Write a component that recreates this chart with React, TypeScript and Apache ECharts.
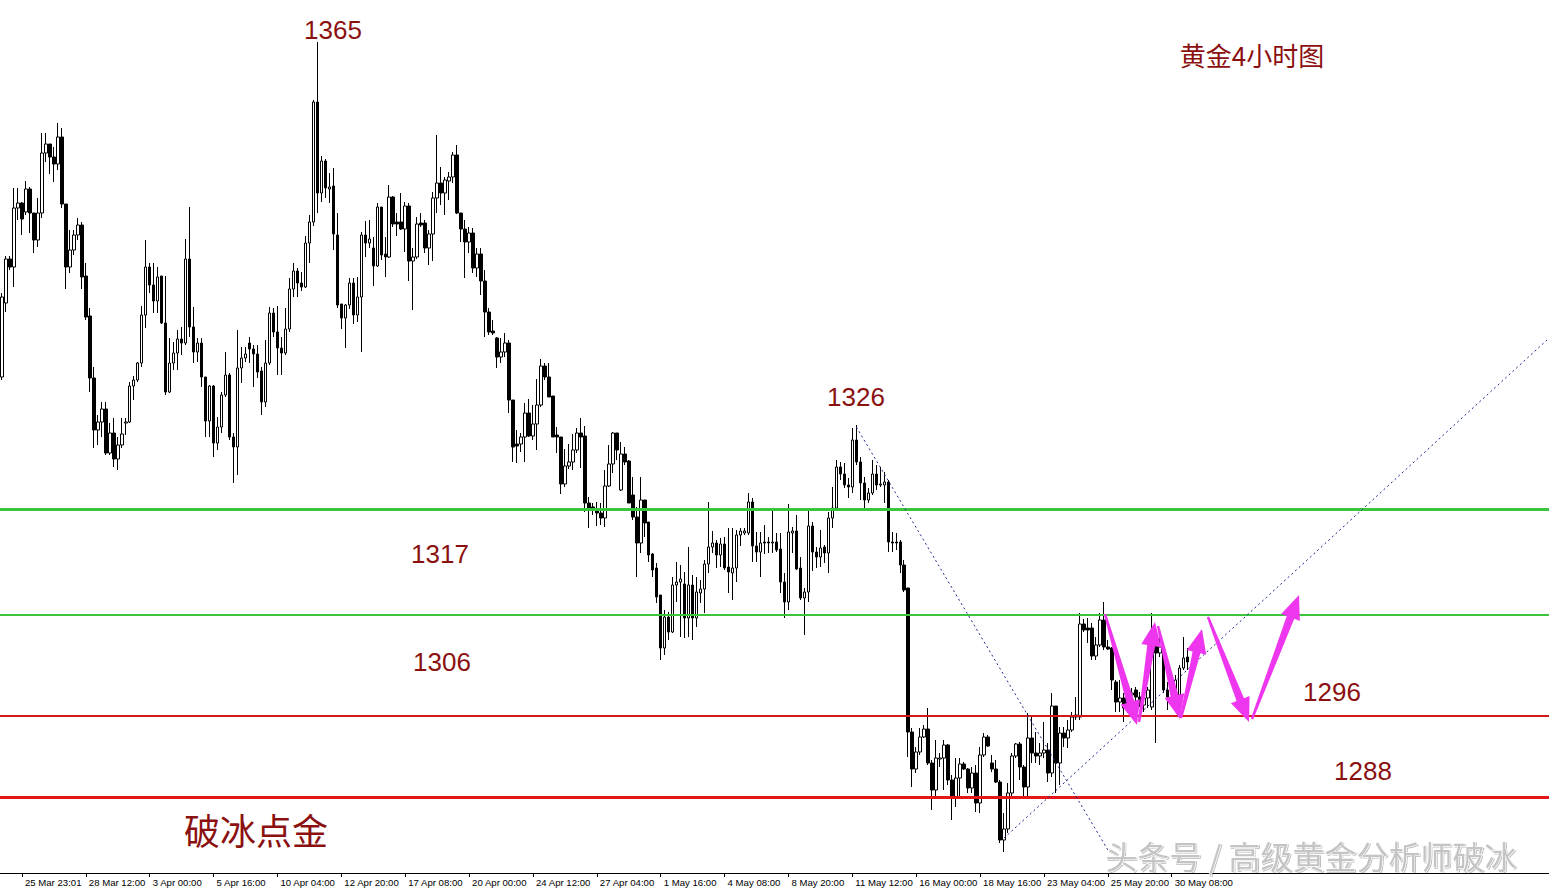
import React, { useEffect, useRef } from "react";
import * as echarts from "echarts";

// ---- x axis tick labels (MT4 style, every 16 bars starting at bar 5) ----
const tickLabels = [
  "25 Mar 23:01", "28 Mar 12:00", "3 Apr 00:00", "5 Apr 16:00", "10 Apr 04:00",
  "12 Apr 20:00", "17 Apr 08:00", "20 Apr 00:00", "24 Apr 12:00", "27 Apr 04:00",
  "1 May 16:00", "4 May 08:00", "8 May 20:00", "11 May 12:00", "16 May 00:00",
  "18 May 16:00", "23 May 04:00", "25 May 20:00", "30 May 08:00",
];
const firstTickBar = 5;
const barsPerTick = 16;
const totalSlots = 388; // bars + empty right-side shift area

// ---- 4h candles: open / close / low / high ----
const opens = [
  1330.3,1337.7,1342.1,1341.3,1347.2,1347.7,1346.8,1349.1,1346.7,1344.0,
  1346.7,1352.7,1353.6,1352.3,1351.6,1354.3,1347.6,1341.3,1343.0,1344.5,
  1345.5,1340.4,1336.4,1330.2,1325.0,1325.8,1327.1,1322.7,1324.7,1322.1,
  1323.5,1325.7,1325.8,1329.4,1330.0,1331.7,1336.5,1341.3,1339.5,1337.9,
  1340.4,1335.7,1328.8,1331.7,1332.7,1334.1,1333.7,1342.1,1335.3,1332.8,
  1333.7,1330.3,1325.9,1329.4,1323.7,1325.3,1328.5,1330.5,1324.3,1323.3,
  1331.2,1332.2,1333.7,1333.1,1332.6,1330.9,1327.8,1331.7,1336.7,1334.8,
  1333.2,1332.7,1335.1,1339.1,1340.9,1339.7,1339.3,1343.7,1345.8,1357.8,
  1348.7,1351.9,1349.1,1349.4,1344.5,1337.6,1336.2,1337.5,1339.7,1336.5,
  1338.3,1344.5,1343.7,1343.2,1341.4,1347.3,1342.6,1342.3,1348.3,1345.8,
  1345.8,1345.1,1347.4,1341.9,1342.3,1345.7,1345.7,1343.2,1344.6,1348.2,
  1349.7,1348.7,1349.9,1350.3,1352.5,1346.7,1345.1,1343.8,1344.7,1341.2,
  1342.6,1339.9,1336.8,1334.9,1334.2,1332.3,1332.8,1333.7,1328.0,1323.6,
  1323.6,1324.3,1326.7,1324.4,1325.6,1327.5,1331.4,1330.3,1328.4,1324.5,
  1324.3,1319.6,1321.4,1321.8,1323.0,1324.7,1324.4,1317.7,1317.3,1317.1,
  1316.7,1316.2,1319.4,1321.6,1324.7,1319.0,1322.6,1321.9,1318.5,1316.3,
  1313.7,1318.0,1315.8,1312.6,1311.2,1308.5,1303.2,1306.3,1304.8,1309.5,
  1309.8,1309.6,1306.2,1309.5,1306.2,1308.7,1309.1,1311.6,1313.3,1313.7,
  1312.5,1313.6,1311.3,1310.7,1311.2,1314.5,1314.7,1314.7,1317.8,1313.4,
  1312.8,1313.8,1313.8,1313.7,1313.8,1313.1,1309.8,1307.8,1314.7,1314.9,
  1311.2,1308.2,1308.8,1315.4,1312.8,1312.3,1313.3,1312.7,1316.2,1317.2,
  1321.3,1320.6,1319.5,1319.3,1324.0,1321.8,1319.7,1318.0,1318.7,1320.6,
  1319.5,1319.5,1319.8,1313.8,1313.8,1313.8,1311.5,1309.2,1294.8,1291.1,
  1292.8,1294.3,1295.1,1291.7,1289.0,1292.1,1292.2,1293.5,1290.0,1288.2,
  1290.2,1291.6,1291.1,1289.2,1290.7,1287.7,1292.5,1294.3,1291.7,1291.1,
  1289.8,1284.0,1285.1,1288.7,1292.4,1293.6,1291.3,1289.3,1294.2,1292.7,
  1292.4,1292.7,1293.0,1290.7,1297.4,1291.7,1294.7,1294.2,1295.0,1296.3,
  1296.3,1305.6,1305.2,1305.2,1302.4,1303.5,1306.0,1303.3,1303.2,1299.8,
  1297.8,1298.2,1297.2,1298.5,1299.0,1298.3,1297.5,1298.2,1297.3,1303.8,
  1302.7,1303.3,1299.0,1300.2,1298.0,1298.5,1301.2,1302.3,
];
const closes = [
  1338.3,1342.1,1341.3,1347.2,1347.7,1346.1,1349.1,1346.7,1344.0,1346.7,
  1352.7,1353.6,1352.3,1351.6,1354.3,1347.6,1341.3,1343.0,1344.5,1345.5,
  1340.3,1336.3,1330.2,1325.0,1325.8,1327.1,1322.7,1324.7,1322.1,1323.5,
  1324.6,1325.8,1329.4,1330.0,1331.7,1336.5,1341.3,1339.5,1337.9,1340.3,
  1335.7,1328.8,1331.7,1332.7,1334.1,1333.7,1342.1,1335.3,1332.8,1333.7,
  1330.3,1325.9,1329.4,1323.7,1325.3,1328.5,1330.5,1324.3,1323.3,1331.2,
  1332.2,1332.6,1333.1,1332.6,1330.8,1327.8,1331.7,1336.7,1334.8,1333.2,
  1332.7,1335.1,1339.1,1340.9,1339.7,1339.3,1343.7,1345.8,1357.8,1348.7,
  1351.9,1349.2,1349.3,1344.6,1337.5,1336.2,1337.5,1339.7,1336.5,1338.3,
  1344.5,1343.7,1344.1,1341.4,1347.3,1342.5,1342.3,1348.3,1345.6,1345.6,
  1345.1,1347.4,1341.9,1342.3,1345.6,1345.5,1343.2,1344.6,1348.2,1349.7,
  1348.7,1350.0,1350.3,1352.5,1346.7,1345.1,1343.8,1344.7,1341.2,1342.6,
  1339.9,1336.8,1334.8,1334.7,1332.3,1332.8,1333.7,1328.0,1323.3,1323.4,
  1324.3,1326.7,1324.4,1325.6,1327.5,1331.4,1330.3,1328.3,1324.3,1324.3,
  1319.6,1321.4,1321.8,1323.0,1324.7,1324.3,1317.7,1317.2,1317.1,1316.7,
  1316.2,1319.4,1321.6,1324.7,1323.0,1322.6,1321.8,1317.7,1316.3,1313.7,
  1318.0,1315.7,1312.5,1311.0,1308.3,1303.2,1306.3,1304.8,1309.5,1309.8,
  1310.1,1306.2,1309.5,1306.2,1308.8,1309.1,1311.6,1313.3,1313.7,1312.5,
  1313.6,1311.2,1310.8,1311.2,1314.5,1314.9,1314.9,1317.8,1313.4,1312.8,
  1313.7,1313.7,1313.7,1313.8,1313.0,1309.8,1307.8,1314.8,1314.9,1311.1,
  1308.2,1308.8,1315.4,1312.8,1312.3,1313.2,1312.7,1316.2,1317.2,1321.3,
  1320.6,1319.5,1319.3,1324.0,1321.8,1319.7,1318.0,1318.7,1320.6,1319.5,
  1319.6,1319.8,1313.8,1313.7,1313.7,1311.5,1309.0,1294.8,1291.1,1292.8,
  1294.3,1295.1,1291.7,1289.0,1292.2,1292.2,1293.5,1290.0,1288.2,1290.2,
  1291.6,1291.1,1289.2,1290.7,1287.7,1292.5,1294.3,1293.4,1291.1,1289.8,
  1284.0,1285.1,1288.7,1292.4,1293.6,1291.3,1289.3,1294.2,1292.7,1292.4,
  1292.7,1293.0,1290.7,1297.4,1291.7,1294.7,1294.2,1295.0,1296.3,1296.5,
  1305.6,1305.0,1305.0,1302.4,1303.5,1306.0,1303.3,1303.1,1300.0,1297.8,
  1298.2,1297.2,1298.5,1298.7,1298.3,1297.5,1298.2,1299.0,1303.8,1302.7,
  1303.3,1299.0,1298.3,1299.3,1300.0,1301.2,1302.2,1301.8,
];
const lows = [
  1330.0,1336.8,1341.0,1339.3,1346.0,1344.5,1346.5,1344.7,1342.7,1343.3,
  1346.2,1351.8,1350.6,1349.8,1351.0,1347.2,1339.1,1340.7,1342.5,1344.0,
  1339.1,1336.0,1328.8,1323.2,1323.5,1324.3,1322.5,1322.5,1321.3,1321.0,
  1323.2,1324.5,1325.7,1328.0,1329.8,1331.3,1335.2,1338.7,1336.7,1336.7,
  1335.6,1328.5,1328.7,1331.0,1331.0,1332.5,1333.5,1334.3,1331.7,1331.8,
  1329.3,1324.3,1324.3,1322.3,1323.0,1324.7,1328.3,1324.0,1319.7,1320.5,
  1329.7,1331.8,1331.7,1329.3,1330.2,1326.5,1327.3,1331.5,1334.3,1330.5,
  1330.5,1332.5,1334.8,1338.3,1338.3,1338.9,1339.2,1341.7,1345.4,1346.7,
  1347.8,1348.2,1347.7,1343.0,1337.2,1335.1,1333.2,1337.1,1335.6,1335.8,
  1332.8,1342.3,1343.2,1339.4,1341.3,1342.0,1340.3,1342.2,1345.3,1344.4,
  1345.0,1342.8,1339.9,1337.0,1342.1,1345.3,1342.7,1341.5,1341.9,1346.7,
  1347.5,1346.5,1348.0,1349.7,1346.6,1343.8,1340.2,1342.7,1340.7,1340.3,
  1338.5,1334.3,1334.5,1334.5,1331.2,1331.7,1332.3,1326.7,1321.8,1321.7,
  1322.8,1321.8,1324.3,1324.0,1323.0,1327.3,1330.0,1328.3,1324.3,1322.7,
  1318.6,1319.3,1321.1,1321.0,1322.7,1321.2,1316.8,1315.2,1316.5,1315.4,
  1315.5,1315.3,1319.3,1320.7,1322.0,1318.9,1321.5,1317.7,1316.0,1310.3,
  1312.7,1314.3,1311.8,1310.3,1307.7,1302.0,1302.5,1304.0,1304.7,1307.8,
  1304.3,1304.2,1304.3,1304.0,1305.3,1307.7,1306.7,1310.7,1312.7,1311.2,
  1311.3,1311.0,1308.7,1308.0,1309.8,1313.4,1314.5,1314.5,1311.8,1311.8,
  1310.3,1312.6,1312.7,1312.7,1312.8,1308.7,1306.2,1307.0,1312.7,1311.0,
  1308.0,1304.5,1307.8,1310.9,1311.2,1311.3,1311.7,1310.7,1315.2,1317.0,
  1320.0,1319.2,1318.2,1318.7,1321.5,1318.0,1317.0,1317.7,1318.5,1319.0,
  1319.3,1317.7,1312.8,1312.8,1313.0,1310.7,1308.8,1292.3,1289.3,1290.7,
  1292.5,1294.2,1291.5,1287.0,1288.2,1291.3,1289.0,1289.5,1286.0,1287.3,
  1288.3,1291.0,1288.7,1288.7,1286.8,1286.7,1292.3,1293.3,1290.8,1289.7,
  1283.7,1282.8,1284.7,1288.3,1292.2,1290.0,1288.4,1288.4,1291.7,1291.7,
  1291.5,1292.2,1289.8,1290.3,1288.7,1289.5,1293.3,1293.2,1294.8,1296.0,
  1296.0,1304.8,1303.7,1302.0,1302.0,1303.3,1303.0,1303.0,1299.0,1296.8,
  1296.8,1295.8,1296.7,1297.5,1297.8,1297.3,1296.8,1297.2,1297.0,1293.7,
  1302.3,1298.7,1297.0,1299.0,1297.5,1298.0,1301.0,1301.0,
];
const highs = [
  1338.7,1342.4,1342.4,1349.2,1349.2,1347.8,1349.9,1349.3,1346.7,1348.2,
  1354.7,1354.7,1353.6,1353.3,1355.7,1355.2,1347.6,1345.0,1345.0,1346.2,
  1345.8,1341.7,1337.2,1331.3,1326.5,1327.8,1327.8,1325.7,1326.2,1324.3,
  1326.2,1326.2,1329.8,1330.4,1331.8,1337.4,1344.0,1341.7,1341.7,1341.3,
  1340.4,1340.4,1334.2,1333.8,1335.0,1335.3,1344.1,1347.3,1337.3,1334.2,
  1334.2,1330.3,1329.5,1329.5,1326.3,1328.8,1332.8,1330.7,1324.7,1335.0,
  1333.3,1333.3,1334.3,1333.5,1333.5,1331.3,1334.0,1337.3,1337.2,1337.4,
  1334.3,1337.2,1340.2,1341.7,1341.2,1340.8,1344.4,1346.5,1358.0,1363.8,
  1352.4,1352.1,1350.7,1351.2,1346.7,1337.6,1337.6,1340.2,1340.2,1340.3,
  1344.8,1345.9,1346.0,1344.3,1347.7,1347.3,1344.3,1349.5,1348.4,1346.7,
  1348.7,1347.8,1347.7,1343.2,1346.3,1346.7,1346.0,1345.0,1348.8,1354.5,
  1351.3,1350.3,1350.8,1352.8,1353.5,1346.7,1346.0,1345.3,1345.2,1343.2,
  1343.2,1341.0,1337.2,1336.0,1334.3,1334.2,1334.7,1334.0,1328.0,1325.0,
  1324.7,1327.7,1328.1,1327.5,1330.1,1332.1,1331.7,1331.7,1328.4,1325.3,
  1324.3,1323.1,1323.6,1324.6,1325.2,1326.2,1325.4,1318.3,1317.7,1317.8,
  1317.7,1321.0,1323.5,1324.8,1324.7,1323.8,1323.3,1322.0,1320.3,1317.3,
  1320.3,1318.0,1315.8,1312.7,1311.7,1308.5,1307.0,1306.8,1310.3,1311.8,
  1311.5,1310.8,1313.3,1310.5,1310.3,1310.0,1312.0,1317.8,1314.9,1314.0,
  1314.2,1314.3,1315.2,1315.2,1315.0,1315.2,1315.2,1318.7,1318.2,1314.8,
  1314.8,1315.5,1314.3,1316.9,1314.7,1314.7,1310.7,1317.6,1315.3,1316.5,
  1312.3,1309.2,1317.2,1315.8,1313.3,1315.0,1313.5,1316.8,1319.3,1322.0,
  1321.8,1321.7,1320.2,1325.2,1325.5,1322.3,1320.3,1319.2,1322.0,1321.5,
  1321.3,1320.8,1320.0,1314.8,1314.7,1314.0,1312.0,1309.2,1295.2,1293.3,
  1295.2,1295.5,1297.2,1292.0,1294.0,1292.7,1294.0,1293.6,1290.5,1292.2,
  1292.2,1291.8,1291.2,1291.3,1291.5,1293.3,1294.7,1294.5,1292.5,1292.0,
  1290.0,1286.7,1289.7,1292.7,1293.7,1293.8,1291.5,1296.7,1296.5,1294.8,
  1293.7,1295.8,1293.7,1298.7,1297.4,1295.3,1295.3,1296.0,1296.8,1298.3,
  1306.7,1306.1,1306.2,1305.7,1304.3,1306.7,1307.8,1304.0,1303.3,1300.0,
  1300.0,1298.7,1299.7,1299.2,1299.3,1298.8,1299.3,1299.3,1306.7,1305.0,
  1304.2,1303.5,1299.8,1300.8,1300.5,1301.5,1304.3,1303.2,
];

// ---- horizontal support / resistance levels ----
const greenLevels = [1317.1, 1306.5];
const redLevels = [1296.4, 1288.3];

// ---- trend lines: [barIndex, price] pairs ----
const downTrend = [[214, 1325.3], [277, 1283.0]];
const upTrend = [[251, 1284.2], [387, 1334.0]];

// ---- annotation texts ----
const annotations = [
  { text: "1365", x: 333, y: 30, size: 26 },
  { text: "1326", x: 856, y: 397, size: 26 },
  { text: "1317", x: 440, y: 554, size: 26 },
  { text: "1306", x: 442, y: 662, size: 26 },
  { text: "1296", x: 1332, y: 692, size: 26 },
  { text: "1288", x: 1363, y: 771, size: 26 },
];

// ---- hand-drawn magenta arrows (pixel start -> tip) ----
const arrows = [
  [1105, 614, 1137, 725],
  [1139, 722, 1155, 622],
  [1158, 626, 1180, 719],
  [1181, 718, 1202, 629],
  [1208, 617, 1249, 722],
  [1252, 719, 1299, 595],
];

function arrowPolygon(x0: number, y0: number, x1: number, y1: number) {
  const dx = x1 - x0, dy = y1 - y0;
  const len = Math.sqrt(dx * dx + dy * dy);
  const ux = dx / len, uy = dy / len;
  const nx = -uy, ny = ux;
  const headLen = 24, headW = 10, w0 = 1.2, w1 = 4;
  const bx = x1 - ux * headLen, by = y1 - uy * headLen;
  return [
    [x0 + nx * w0, y0 + ny * w0],
    [bx + nx * w1, by + ny * w1],
    [bx + nx * headW, by + ny * headW],
    [x1, y1],
    [bx - nx * headW, by - ny * headW],
    [bx - nx * w1, by - ny * w1],
    [x0 - nx * w0, y0 - ny * w0],
  ];
}

export default function App() {
  const ref = useRef<HTMLDivElement>(null);

  useEffect(() => {
    if (!ref.current) return;
    const chart = echarts.init(ref.current, undefined, { renderer: "svg" });

    const categories: string[] = [];
    for (let i = 0; i < totalSlots; i++) categories.push(String(i));
    const labelMap = new Map<number, string>();
    tickLabels.forEach((t, j) => labelMap.set(firstTickBar + j * barsPerTick, t));
    const showTick = (i: number) => labelMap.has(i);

    const data = opens.map((o, i) => [o, closes[i], lows[i], highs[i]]);

    const dotted = { color: "#1a2a8a", width: 1, type: [2, 3] as any };

    const markData: any[] = [
      ...greenLevels.map((v, i) => ({
        yAxis: v,
        lineStyle: { color: "#3cc43c", width: i === 0 ? 3 : 2, type: "solid" },
      })),
      ...redLevels.map((v, i) => ({
        yAxis: v,
        lineStyle: { color: i === 0 ? "#d01a1a" : "#e3161b", width: i === 0 ? 2 : 3, type: "solid" },
      })),
      [
        { coord: downTrend[0], lineStyle: dotted },
        { coord: downTrend[1] },
      ],
      [
        { coord: upTrend[0], lineStyle: dotted },
        { coord: upTrend[1] },
      ],
    ];

    const textColor = "#8b1010";
    const graphics: any[] = [
      ...annotations.map((a) => ({
        type: "text",
        x: a.x,
        y: a.y,
        style: {
          text: a.text,
          fill: textColor,
          fontSize: a.size,
          fontFamily: "Liberation Sans, Arial, sans-serif",
          align: "center",
          verticalAlign: "middle",
        },
        z: 10,
      })),
      {
        type: "text",
        x: 1252,
        y: 54,
        style: {
          text: "黄金4小时图",
          fill: textColor,
          fontSize: 26,
          fontFamily: "Noto Sans CJK SC",
          align: "center",
          verticalAlign: "middle",
        },
        z: 10,
      },
      {
        type: "text",
        x: 256,
        y: 829,
        style: {
          text: "破冰点金",
          fill: textColor,
          fontSize: 36,
          fontFamily: "Noto Sans CJK SC",
          align: "center",
          verticalAlign: "middle",
        },
        z: 10,
      },
      {
        type: "text",
        x: 1311,
        y: 855,
        style: {
          text: "头条号 / 高级黄金分析师破冰",
          fill: "#c4c4c4",
          stroke: "#ffffff",
          lineWidth: 1,
          fontSize: 32,
          fontFamily: "Noto Sans CJK SC",
          align: "center",
          verticalAlign: "middle",
          textShadowColor: "rgba(0,0,0,0.25)",
          textShadowBlur: 1,
          textShadowOffsetX: 1,
          textShadowOffsetY: 1,
        },
        z: 11,
      },
      ...arrows.map((a) => ({
        type: "polygon",
        shape: { points: arrowPolygon(a[0], a[1], a[2], a[3]) },
        style: { fill: "#ee36ee" },
        z: 9,
      })),
    ];

    chart.setOption({
      animation: false,
      backgroundColor: "#ffffff",
      grid: { left: -1, right: 0, top: 0, bottom: 18, containLabel: false },
      xAxis: {
        type: "category",
        data: categories,
        boundaryGap: true,
        axisLine: { show: true, onZero: false, lineStyle: { color: "#000", width: 1 } },
        axisTick: {
          show: true,
          alignWithLabel: true,
          interval: (i: number) => showTick(i),
          length: 4,
          lineStyle: { color: "#000" },
        },
        axisLabel: {
          show: true,
          interval: (i: number) => showTick(i),
          formatter: (_v: string, i: number) => labelMap.get(i) ?? "",
          align: "left",
          margin: 4,
          padding: [0, 0, 0, 3],
          fontSize: 9.6,
          fontFamily: "Liberation Sans, Arial, sans-serif",
          color: "#000",
        },
        splitLine: { show: false },
      },
      yAxis: {
        type: "value",
        min: 1280.7,
        max: 1368,
        show: false,
        splitLine: { show: false },
      },
      series: [
        {
          type: "candlestick",
          data,
          barWidth: 3,
          itemStyle: {
            color: "#ffffff",
            color0: "#000000",
            borderColor: "#000000",
            borderColor0: "#000000",
            borderWidth: 1,
          },
          markLine: {
            silent: true,
            symbol: ["none", "none"],
            label: { show: false },
            animation: false,
            data: markData,
          },
        },
      ],
      graphic: graphics,
    });

    return () => chart.dispose();
  }, []);

  return (
    <div
      ref={ref}
      style={{ position: "absolute", left: 0, top: 0, width: 1549, height: 891, background: "#fff" }}
    />
  );
}
